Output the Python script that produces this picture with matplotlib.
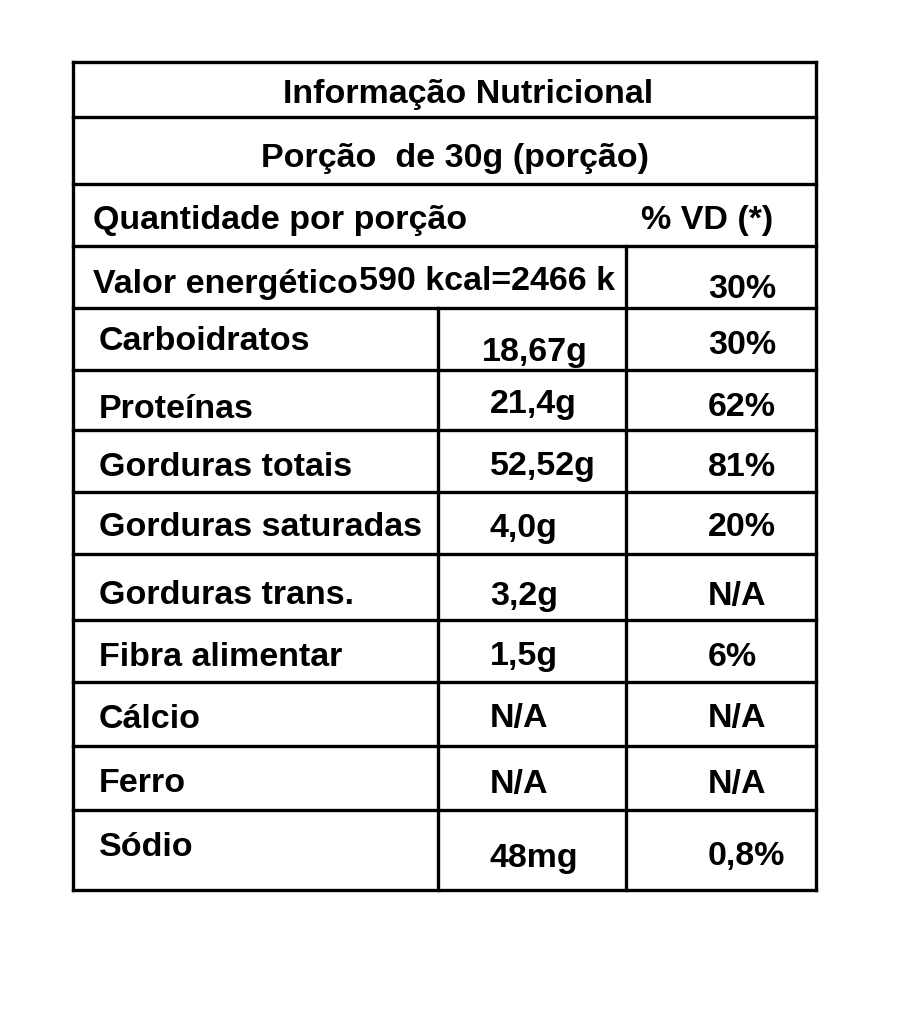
import matplotlib
matplotlib.use("Agg")
import matplotlib.pyplot as plt
from matplotlib.patches import Rectangle

plt.rcParams["font.family"] = ["Liberation Sans", "DejaVu Sans"]

TITLE = "Informação Nutricional"
PORCAO = "Porção  de 30g (porção)"
HEAD_L, HEAD_R = "Quantidade por porção", "% VD (*)"
ENERGY = ("Valor energético", "590 kcal=2466 k", "30%")
NUTRIENTS = ["Carboidratos", "Proteínas", "Gorduras totais", "Gorduras saturadas",
             "Gorduras trans.", "Fibra alimentar", "Cálcio", "Ferro", "Sódio"]
AMOUNTS = ["18,67g", "21,4g", "52,52g", "4,0g", "3,2g", "1,5g", "N/A", "N/A", "48mg"]
VD = ["30%", "62%", "81%", "20%", "N/A", "6%", "N/A", "N/A", "0,8%"]

# layout (pixels)
HLINES = [62, 117, 184, 246, 308, 370, 430, 492, 554, 620, 682, 746, 810, 890]
X0, X1, XA, XB = 73, 816, 438, 626
DY = 3
Y_NAME = [339, 406, 464, 525, 593, 654, 716, 781, 845]
Y_AMT = [349, 402, 464, 525, 593, 654, 716, 781, 855]
Y_VD = [342, 404, 464, 525, 593, 654, 716, 781, 853]

fig = plt.figure(figsize=(9.02, 10.22), dpi=100)
ax = fig.add_axes([0, 0, 1, 1])
ax.set_xlim(0, 902); ax.set_ylim(1022, 0); ax.axis("off")

lw = 2.4
for y in HLINES:
    ax.plot([X0, X1], [y, y], color="black", lw=lw, solid_capstyle="projecting")
ax.plot([X0, X0], [HLINES[0], HLINES[-1]], color="black", lw=lw)
ax.plot([X1, X1], [HLINES[0], HLINES[-1]], color="black", lw=lw)
ax.plot([XA, XA], [308, 890], color="black", lw=lw)
ax.plot([XB, XB], [246, 890], color="black", lw=lw)

fs = 24.5
kw = dict(fontsize=fs, fontweight="bold", va="center")
ax.text(468, 92 + DY, TITLE, ha="center", **kw)
ax.text(455, 156 + DY, PORCAO, ha="center", **kw)
ax.text(93, 217 + DY, HEAD_L, ha="left", **kw)
ax.text(641, 217 + DY, HEAD_R, ha="left", **kw)
ax.text(93, 282 + DY, ENERGY[0], ha="left", **kw)
t = ax.text(359, 279 + DY, ENERGY[1], ha="left", **kw)
clip = Rectangle((300, 250), 322, 55, transform=ax.transData)
t.set_clip_path(clip)
ax.text(708, 287 + DY, ENERGY[2], ha="left", **kw)

for n, a, v, yn, ya, yv in zip(NUTRIENTS, AMOUNTS, VD, Y_NAME, Y_AMT, Y_VD):
    ax.text(99, yn + DY, n, ha="left", **kw)
    ax.text(490 if a != "18,67g" else 482, ya + DY, a, ha="left", **kw)
    ax.text(708, yv + DY, v, ha="left", **kw)

fig.savefig("out.png", dpi=100, facecolor="white")
